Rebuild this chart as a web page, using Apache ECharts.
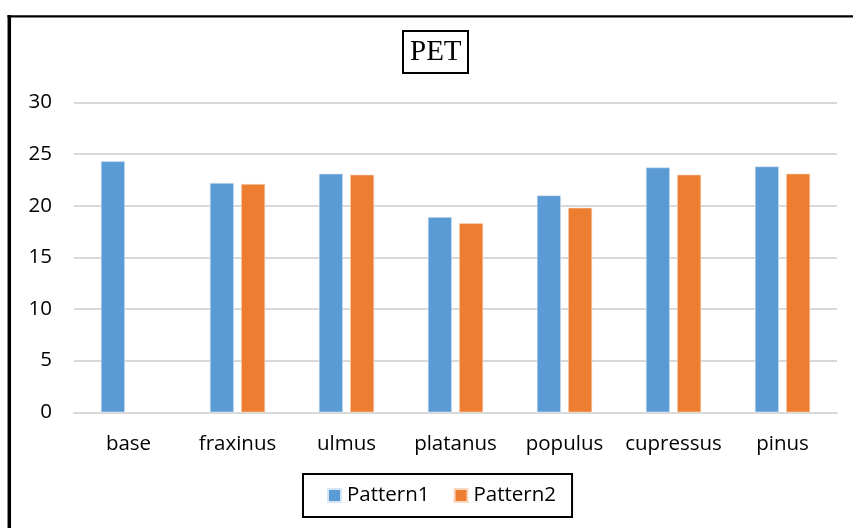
<!DOCTYPE html>
<html>
<head>
<meta charset="utf-8">
<style>
html,body{margin:0;padding:0;background:#fff;}
#c{width:853px;height:528px;}
</style>
<script src="https://cdn.jsdelivr.net/npm/echarts@6/dist/echarts.min.js"></script>
</head>
<body>
<div id="c"></div>
<script>
const categories = ['base', 'fraxinus', 'ulmus', 'platanus', 'populus', 'cupressus', 'pinus'];
const pattern1 = [24.3, 22.2, 23.1, 18.9, 21.0, 23.7, 23.8];
const pattern2 = [null, 22.1, 23.0, 18.3, 19.8, 23.0, 23.1];
const yTicks = [0, 5, 10, 15, 20, 25, 30];

const chart = echarts.init(document.getElementById('c'), null, {renderer: 'canvas'});
const font = '"Open Sans", "Liberation Sans", sans-serif';
chart.setOption({
  animation: false,
  backgroundColor: '#fff',
  title: {
    text: 'PET',
    left: 403,
    top: 31,
    padding: [5, 7, 5, 7],
    borderColor: '#000',
    borderWidth: 2,
    textStyle: {fontFamily: '"Liberation Serif", "Times New Roman", serif', fontSize: 29, fontWeight: 'normal', color: '#000', lineHeight: 32}
  },
  legend: {
    data: ['Pattern1', 'Pattern2'],
    left: 303,
    top: 474,
    padding: [11, 16, 11, 24],
    borderColor: '#000',
    borderWidth: 2,
    itemWidth: 13,
    itemHeight: 13,
    itemGap: 24,
    icon: 'rect',
    textStyle: {fontFamily: font, fontSize: 20.5, color: '#000', padding: [0, 0, 0, 1]}
  },
  grid: {left: 74, right: 16, top: 102.4, bottom: 115.7, containLabel: false},
  xAxis: {
    type: 'category',
    data: categories,
    axisLine: {lineStyle: {color: '#d9d9d9', width: 2}},
    axisTick: {show: false},
    axisLabel: {fontFamily: font, fontSize: 20.5, color: '#000', margin: 21, interval: 0}
  },
  yAxis: {
    type: 'value',
    min: yTicks[0],
    max: yTicks[yTicks.length - 1],
    interval: 5,
    axisLine: {show: false},
    axisTick: {show: false},
    splitLine: {lineStyle: {color: '#d9d9d9', width: 2}},
    axisLabel: {fontFamily: font, fontSize: 20.5, color: '#000', margin: 22}
  },
  series: [
    {name: 'Pattern1', type: 'bar', data: pattern1, barWidth: 24, barGap: '30%',
     itemStyle: {color: '#5B9BD5', borderColor: '#d6e6f5', borderWidth: 0.6}},
    {name: 'Pattern2', type: 'bar', data: pattern2, barWidth: 24,
     itemStyle: {color: '#ED7D31', borderColor: '#f9d8c2', borderWidth: 0.6}}
  ],
  graphic: [
    {type: 'line', shape: {x1: 9.3, y1: 15, x2: 9.3, y2: 540}, style: {stroke: '#000', lineWidth: 3.5}},
    {type: 'line', shape: {x1: 7.5, y1: 16.3, x2: 860, y2: 16.3}, style: {stroke: '#000', lineWidth: 2.2}}
  ]
});
</script>
</body>
</html>
